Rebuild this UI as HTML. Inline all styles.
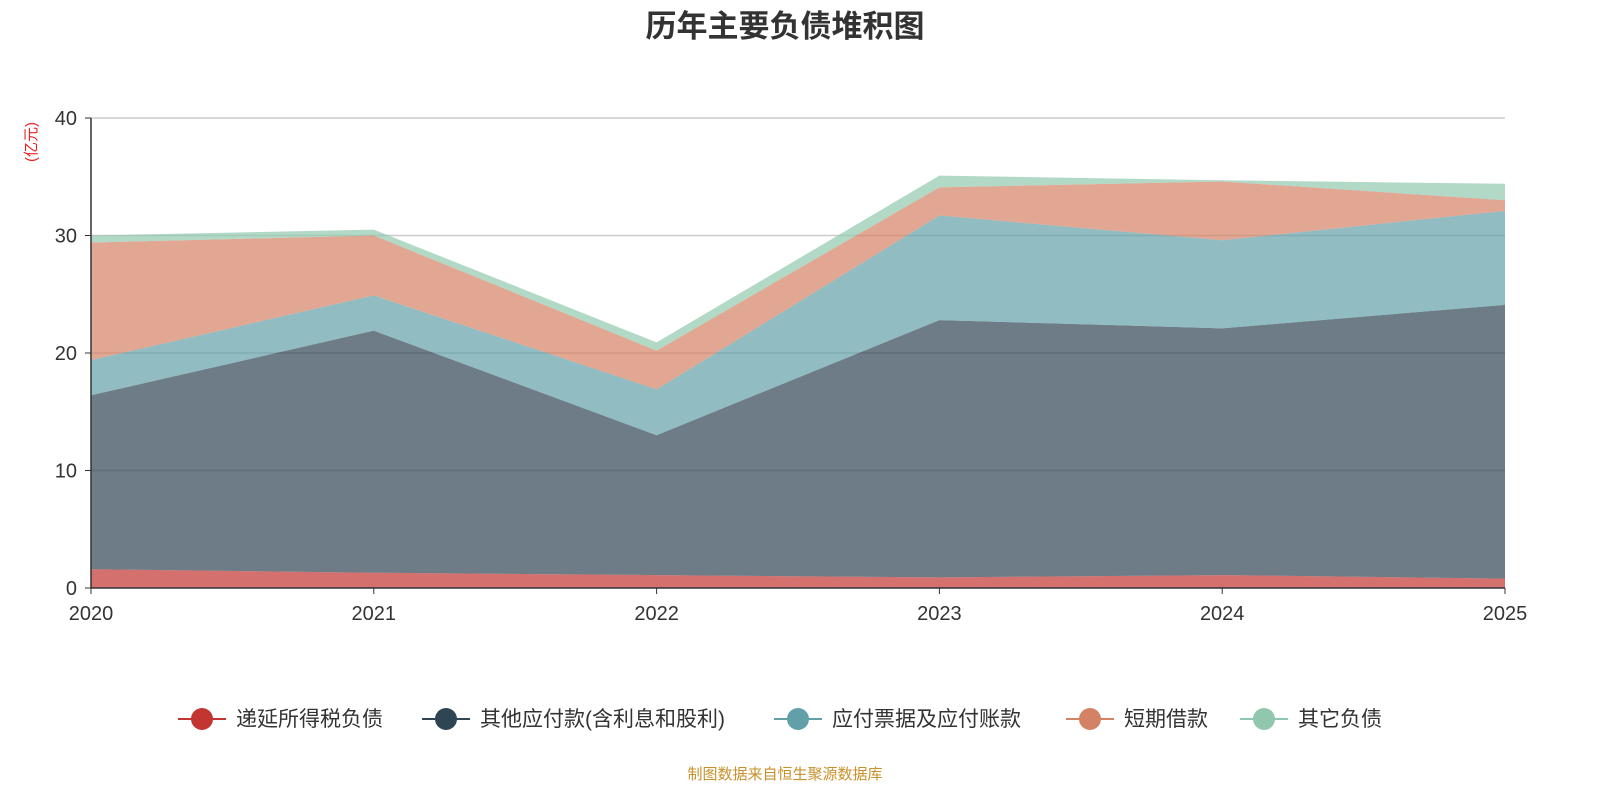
<!DOCTYPE html>
<html><head><meta charset="utf-8">
<style>
body{margin:0;background:#fff;font-family:"Liberation Sans","Noto Sans CJK SC",sans-serif;}
svg text{font-family:"Liberation Sans","Noto Sans CJK SC",sans-serif;}
</style></head>
<body>
<svg id="chart" width="1600" height="800" xmlns="http://www.w3.org/2000/svg">
<text x="785" y="37" text-anchor="middle" font-size="31" font-weight="bold" fill="#333">历年主要负债堆积图</text>
<text transform="translate(36,142) rotate(-90)" text-anchor="middle" font-size="15" fill="#e82020">(亿元)</text>
<g id="grid"></g>
<g id="areas"></g>
<g id="axes"></g>
<g id="legend"></g>
<text x="785" y="779" text-anchor="middle" font-size="15" fill="#c8902a">制图数据来自恒生聚源数据库</text>
</svg>
<script>
const years=["2020","2021","2022","2023","2024","2025"];
const seriesNames=["递延所得税负债","其他应付款(含利息和股利)","应付票据及应付账款","短期借款","其它负债"];
const deferredTax=[1.6,1.3,1.1,0.9,1.1,0.8];
const otherPayables=[14.8,20.6,11.9,21.9,21.0,23.3];
const billsPayable=[3.0,3.0,3.9,8.9,7.5,8.0];
const shortLoans=[10.0,5.1,3.3,2.4,5.0,0.9];
const otherLiab=[0.6,0.5,0.7,1.0,0.1,1.4];
const yTicks=[0,10,20,30,40];
const series=[deferredTax,otherPayables,billsPayable,shortLoans,otherLiab];
const colors=["#c23531","#2f4554","#61a0a8","#d48265","#91c7ae"];
const slugs=["deferred-tax","other-payables","bills-payable","short-loans","other-liabilities"];
const NS="http://www.w3.org/2000/svg";
const x0=91,x1=1505,yb=588,yt=118;
const X=i=>x0+(x1-x0)*i/(years.length-1);
const Y=v=>yb-(yb-yt)*v/40;
function mk(t,a,p){const e=document.createElementNS(NS,t);for(const k in a)e.setAttribute(k,a[k]);p.appendChild(e);return e;}
const grid=document.getElementById('grid'),areas=document.getElementById('areas'),axes=document.getElementById('axes'),legend=document.getElementById('legend');
yTicks.forEach(t=>{
  if(t>0){const l=mk('line',{x1:x0,x2:x1,y1:Y(t),y2:Y(t),stroke:'#ccc','stroke-width':1.5},grid);
  
  }
  const tk=mk('line',{x1:x0-6,x2:x0,y1:Y(t),y2:Y(t),stroke:'#333'},axes);
  
  
  const tx=mk('text',{x:x0-14,y:Y(t)+7,'text-anchor':'end','font-size':20,fill:'#333'},axes);tx.textContent=t;
  
  
});
let base=years.map(()=>0);
series.forEach((s,si)=>{
  const top=base.map((b,i)=>b+s[i]);
  let d='M'+years.map((_,i)=>X(i)+','+Y(top[i])).join(' L');
  for(let i=years.length-1;i>=0;i--)d+=' L'+X(i)+','+Y(base[i]);
  d+='Z';
  const p=mk('path',{d:d,fill:colors[si],'fill-opacity':0.7,stroke:'none'},areas);
  
  
  base=top;
});
const ya=mk('line',{x1:x0,x2:x0,y1:yt,y2:yb,stroke:'#333','stroke-width':1.5},axes);


const xa=mk('line',{x1:x0,x2:x1,y1:yb,y2:yb,stroke:'#333','stroke-width':1.5},axes);


years.forEach((y,i)=>{
  const tk=mk('line',{x1:X(i),x2:X(i),y1:yb,y2:yb+6,stroke:'#333'},axes);
  
  
  const t=mk('text',{x:X(i),y:620,'text-anchor':'middle','font-size':20,fill:'#333'},axes);t.textContent=y;
  
  
});
const lx=[178,422,774,1066,1240];
seriesNames.forEach((n,i)=>{
  const g=mk('g',{},legend);
  
  
  mk('line',{x1:lx[i],x2:lx[i]+48,y1:719,y2:719,stroke:colors[i],'stroke-width':2},g);
  mk('circle',{cx:lx[i]+24,cy:719,r:11,fill:colors[i]},g);
  const t=mk('text',{x:lx[i]+58,y:726,'font-size':21,fill:'#333'},g);t.textContent=n;
});
</script>
</body></html>
